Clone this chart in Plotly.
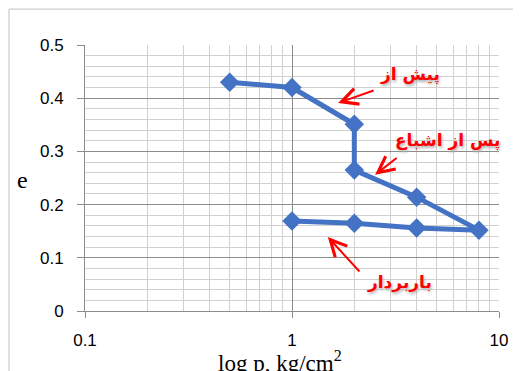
import math
import plotly.graph_objects as go

pressure = [0.5, 1, 2, 2, 4, 8, 4, 2, 1]
void_ratio = [0.43, 0.42, 0.351, 0.265, 0.214, 0.152, 0.156, 0.165, 0.169]

labels = ["پیش از", "پس از اشباع", "باربردار"]
label_x = [3.72, 5.61, 3.32]
label_y = [0.444, 0.321, 0.053]
arrow_x = [1.67, 2.52, 1.49]
arrow_y = [0.391, 0.256, 0.139]
arrow_ax = [37, 23, 33]
arrow_ay = [-13, -18, 36]

fig = go.Figure()
fig.add_trace(go.Scatter(
    x=pressure, y=void_ratio, mode="lines+markers",
    line=dict(color="#4472C4", width=5),
    marker=dict(symbol="diamond", size=15, color="#4472C4"),
    showlegend=False,
))

for t, x, y in zip(labels, label_x, label_y):
    fig.add_annotation(x=math.log10(x), y=y, text=f"<b>{t}</b>", showarrow=False,
                       xref="x", yref="y",
                       font=dict(family="DejaVu Sans", size=17, color="#FF0000",
                                 shadow="1px 2px 3px #b0b0b0"))
for x, y, ax, ay in zip(arrow_x, arrow_y, arrow_ax, arrow_ay):
    fig.add_annotation(x=math.log10(x), y=y, ax=ax, ay=ay, text="", showarrow=True,
                       xref="x", yref="y",
                       arrowhead=5, arrowsize=1.6, arrowwidth=2, arrowcolor="#FF0000")

# axis titles
fig.add_annotation(xref="paper", yref="paper", x=0.471, y=-0.128,
                   xanchor="center", yanchor="top", showarrow=False,
                   text="log p, kg/cm<sup>2</sup>",
                   font=dict(family="Liberation Serif", size=23, color="#000"))
fig.add_annotation(xref="paper", yref="paper", x=-0.151, y=0.492,
                   xanchor="center", yanchor="middle", showarrow=False,
                   text="e",
                   font=dict(family="Liberation Serif", size=24, color="#000"))

# chart outline
fig.add_shape(type="line", xref="paper", yref="paper",
              x0=-0.1836, x1=-0.1836, y0=-0.3, y1=1.135,
              line=dict(color="#c0c0c0", width=1))
fig.add_shape(type="line", xref="paper", yref="paper",
              x0=-0.1836, x1=1.2, y0=1.135, y1=1.135,
              line=dict(color="#c0c0c0", width=1))

fig.update_xaxes(
    type="log", range=[-1, 1],
    tickvals=[0.1, 1, 10], ticktext=["0.1", "1", "10"],
    ticks="outside", ticklen=6, tickcolor="#8c8c8c",
    showline=True, linecolor="#8c8c8c", mirror=False,
    showgrid=True, gridcolor="#8c8c8c", gridwidth=1,
    minor=dict(tickvals=[0.2, 0.3, 0.4, 0.5, 0.6, 0.7, 0.8, 0.9,
                         2, 3, 4, 5, 6, 7, 8, 9],
               showgrid=True, gridcolor="#d0d0d0", gridwidth=1, ticks=""),
    tickfont=dict(family="Liberation Sans", size=17, color="#000"),
    ticklabelstandoff=8,
    zeroline=False, automargin=False,
)
fig.update_yaxes(
    range=[0, 0.5], dtick=0.1,
    ticks="outside", ticklen=7, tickcolor="#8c8c8c",
    showline=True, linecolor="#8c8c8c",
    showgrid=True, gridcolor="#8c8c8c", gridwidth=1,
    minor=dict(dtick=0.02, showgrid=True, gridcolor="#d0d0d0", gridwidth=1, ticks=""),
    tickfont=dict(family="Liberation Sans", size=17, color="#000"),
    ticklabelstandoff=10,
    zeroline=False, automargin=False,
)
fig.update_layout(
    width=521, height=371,
    margin=dict(l=77, r=30, t=37, b=68),
    plot_bgcolor="white", paper_bgcolor="white",
)
fig.write_html("out.html")
